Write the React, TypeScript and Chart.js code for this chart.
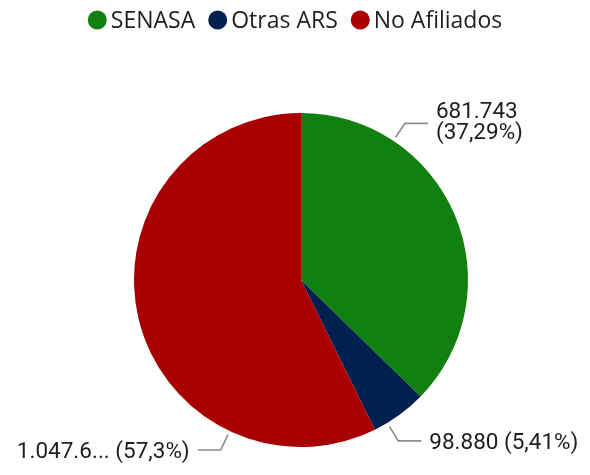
import React, { useEffect, useRef } from "react";
import { Chart, registerables } from "chart.js";

Chart.register(...registerables);

const categories = ["SENASA", "Otras ARS", "No Afiliados"];
const values = [681743, 98880, 1047640];
const colors = ["#118011", "#002050", "#A80000"];
// where along each slice (0..1 of its angular span) the leader line starts
const labelAnchors = [0.25, 0.75, 0.25];
const maxValueChars = 7;

const LEGEND_FONT = '23px "Open Sans"';
const LABEL_FONT = '22.5px Roboto';
const TEXT_COLOR = "#1f1e1d";
const LEADER_COLOR = "#8c8c8c";

function fmtInt(n: number): string {
  return Math.round(n)
    .toString()
    .replace(/\B(?=(\d{3})+(?!\d))/g, ".");
}
function fmtPct(p: number): string {
  const s = p.toFixed(2).replace(/\.?0+$/, "");
  return s.replace(".", ",") + "%";
}

const legendPlugin = {
  id: "customLegend",
  afterDraw(chart: any) {
    const ctx = chart.ctx;
    const ds = chart.data.datasets[0];
    const labels = chart.data.labels as string[];
    const r = 9.5;
    const gapText = 4;
    const gapItem = 13;
    ctx.save();
    ctx.font = LEGEND_FONT;
    const widths = labels.map((l) => ctx.measureText(l).width);
    const total =
      widths.reduce((a, w) => a + w + 2 * r + gapText, 0) +
      gapItem * (labels.length - 1);
    let x = (chart.width - total) / 2;
    const cy = 20;
    labels.forEach((l, i) => {
      ctx.fillStyle = ds.backgroundColor[i];
      ctx.beginPath();
      ctx.arc(x + r, cy, r, 0, Math.PI * 2);
      ctx.fill();
      ctx.fillStyle = TEXT_COLOR;
      ctx.textBaseline = "middle";
      ctx.textAlign = "left";
      ctx.fillText(l, x + 2 * r + gapText, cy + 1);
      x += 2 * r + gapText + widths[i] + gapItem;
    });
    ctx.restore();
  },
};

const labelPlugin = {
  id: "outsideLabels",
  afterDatasetsDraw(chart: any) {
    const ctx = chart.ctx;
    const meta = chart.getDatasetMeta(0);
    const data = chart.data.datasets[0].data as number[];
    const total = data.reduce((a, b) => a + b, 0);
    ctx.save();
    ctx.font = LABEL_FONT;
    meta.data.forEach((arc: any, i: number) => {
      const { x: cx, y: cy, outerRadius, startAngle, endAngle } = arc.getProps(
        ["x", "y", "outerRadius", "startAngle", "endAngle"],
        true
      );
      const a = startAngle + (endAngle - startAngle) * labelAnchors[i];
      const cos = Math.cos(a);
      const sin = Math.sin(a);
      const p0x = cx + cos * (outerRadius + 4);
      const p0y = cy + sin * (outerRadius + 4);
      const p1x = cx + cos * (outerRadius + 21);
      const p1y = cy + sin * (outerRadius + 21);
      const dir = cos >= 0 ? 1 : -1;
      const p2x = p1x + dir * 23;
      ctx.strokeStyle = LEADER_COLOR;
      ctx.lineWidth = 1.6;
      ctx.beginPath();
      ctx.moveTo(p0x, p0y);
      ctx.lineTo(p1x, p1y);
      ctx.lineTo(p2x, p1y);
      ctx.stroke();

      let vText = fmtInt(data[i]);
      if (vText.length > maxValueChars) vText = vText.slice(0, maxValueChars) + "...";
      const pText = "(" + fmtPct((data[i] / total) * 100) + ")";
      const single = vText + " " + pText;
      const tx = p2x + dir * 8;
      const avail = dir > 0 ? chart.width - tx : tx;
      ctx.fillStyle = TEXT_COLOR;
      ctx.textAlign = dir > 0 ? "left" : "right";
      ctx.textBaseline = "alphabetic";
      if (ctx.measureText(single).width <= avail) {
        ctx.fillText(single, tx, p1y + 8);
      } else {
        ctx.fillText(vText, tx, p1y - 5);
        ctx.fillText(pText, tx, p1y + 16);
      }
    });
    ctx.restore();
  },
};

export default function App() {
  const ref = useRef<HTMLCanvasElement | null>(null);
  useEffect(() => {
    if (!ref.current) return;
    const chart = new Chart(ref.current, {
      type: "pie",
      data: {
        labels: categories,
        datasets: [
          {
            data: values,
            backgroundColor: colors,
            borderWidth: 0,
          },
        ],
      },
      options: {
        responsive: false,
        animation: false,
        layout: { padding: { top: 113, bottom: 28, left: 134, right: 122 } },
        plugins: {
          legend: { display: false },
          tooltip: { enabled: false },
        },
      },
      plugins: [legendPlugin, labelPlugin],
    });
    return () => chart.destroy();
  }, []);
  return (
    <div style={{ position: "absolute", left: 0, top: 0, width: 590, height: 475, background: "#fff" }}>
      <canvas ref={ref} width={590} height={475} />
    </div>
  );
}
